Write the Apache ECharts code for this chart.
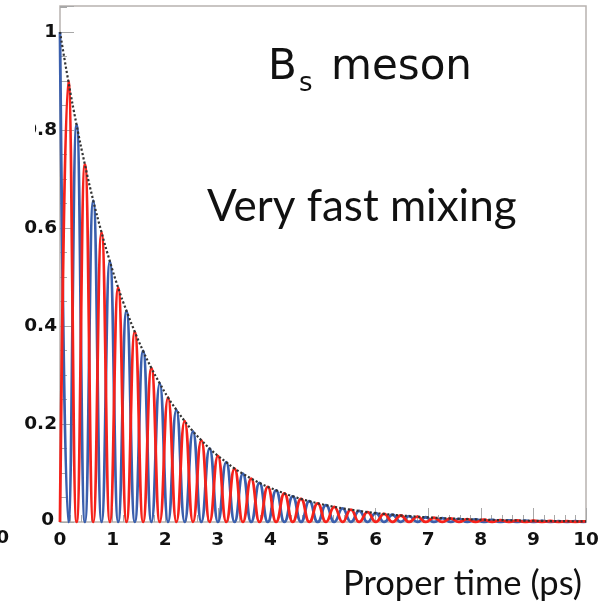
<!DOCTYPE html>
<html>
<head>
<meta charset="utf-8">
<script src="https://cdn.jsdelivr.net/npm/echarts@6/dist/echarts.min.js"></script>
<style>html,body{margin:0;padding:0;background:#fff;}#c{width:610px;height:605px;}</style>
</head>
<body>
<div id="c"></div>
<script>
// Proper time samples (ps): peaks/zeros of the oscillation
const times = [0,0.158,0.316,0.474,0.632,0.79,0.948,1.106,1.264,1.422,1.58,1.738,1.896,2.054,2.212,2.37,2.528,2.686,2.844,3.002,3.16,3.318,3.476,3.634,3.792,3.95,4.108,4.266,4.424,4.582,4.74,4.898,5.056,5.214,5.372,5.53,5.688,5.846,6.004,6.162,6.32,6.478,6.636,6.794,6.952,7.11,7.268,7.426,7.584,7.742,7.9,8.058,8.216,8.374,8.532,8.69,8.848,9.006,9.164,9.322,9.48,9.638,9.796,9.954,10];
// Exponential decay envelope (dotted black)
const envelope = [1,0.9,0.81,0.729,0.656,0.591,0.532,0.478,0.431,0.388,0.349,0.314,0.283,0.254,0.229,0.206,0.185,0.167,0.15,0.135,0.122,0.109,0.0985,0.0887,0.0798,0.0718,0.0647,0.0582,0.0524,0.0471,0.0424,0.0382,0.0344,0.0309,0.0278,0.0251,0.0226,0.0203,0.0183,0.0164,0.0148,0.0133,0.012,0.0108,0.0097,0.0087,0.0079,0.0071,0.0064,0.0057,0.0052,0.0046,0.0042,0.0038,0.0034,0.0031,0.0027,0.0025,0.0022,0.002,0.0018,0.0016,0.0015,0.0013,0.0013];
// Unmixed (blue) and mixed (red) probabilities
const blueValues = [1,0,0.81,0,0.656,0,0.532,0,0.431,0,0.349,0,0.283,0,0.229,0,0.185,0,0.15,0,0.122,0,0.0985,0,0.0798,0,0.0647,0,0.0524,0,0.0424,0,0.0344,0,0.0278,0,0.0226,0,0.0183,0,0.0148,0,0.012,0,0.0097,0,0.0079,0,0.0064,0,0.0052,0,0.0042,0,0.0034,0,0.0027,0,0.0022,0,0.0018,0,0.0015,0,0.0007];
const redValues = [0,0.9,0,0.729,0,0.591,0,0.478,0,0.388,0,0.314,0,0.254,0,0.206,0,0.167,0,0.135,0,0.109,0,0.0887,0,0.0718,0,0.0582,0,0.0471,0,0.0382,0,0.0309,0,0.0251,0,0.0203,0,0.0164,0,0.0133,0,0.0108,0,0.0087,0,0.0071,0,0.0057,0,0.0046,0,0.0038,0,0.0031,0,0.0025,0,0.002,0,0.0016,0,0.0013,0.0012];
const xTicks = [0,1,2,3,4,5,6,7,8,9,10];
const yTicks = [0,0.2,0.4,0.6,0.8,1];

const pairs = (ys) => times.map((t, i) => [t, ys[i]]);
const chart = echarts.init(document.getElementById('c'));
const labelFont = {fontFamily: 'DejaVu Sans', fontWeight: 'bold', fontSize: 18.5, color: '#111'};
chart.setOption({
  animation: false,
  grid: {left: 60, right: 24, top: 6, bottom: 83, show: true, borderColor: '#b8b3b0', borderWidth: 1.5, backgroundColor: 'transparent'},
  xAxis: {
    type: 'value', min: 0, max: 10, interval: 1,
    axisLine: {show: false},
    axisTick: {show: true, inside: true, length: 14, lineStyle: {color: '#a8a8a8', width: 1}},
    minorTick: {show: true, splitNumber: 5, length: 7, lineStyle: {color: '#a8a8a8', width: 1}},
    splitLine: {show: false},
    axisLabel: Object.assign({margin: 9, formatter: v => xTicks.includes(v) ? String(v) : ''}, labelFont)
  },
  yAxis: {
    type: 'value', min: 0, max: 1.053, interval: 0.2,
    axisLine: {show: false},
    axisTick: {show: true, inside: true, length: 14, lineStyle: {color: '#a8a8a8', width: 1}},
    minorTick: {show: true, splitNumber: 4, length: 7, lineStyle: {color: '#a8a8a8', width: 1}},
    splitLine: {show: false},
    axisLabel: Object.assign({
      margin: 3, showMaxLabel: false,
      formatter: v => {
        const r = Math.round(v * 10) / 10;
        if (!yTicks.some(t => Math.abs(t - v) < 1e-6)) return '';
        return r === 0 ? '{z|0}' : String(r);
      },
      rich: {z: {fontFamily: 'DejaVu Sans', fontWeight: 'bold', fontSize: 18.5, color: '#111', padding: [0, 3, 4, 0]}}
    }, labelFont)
  },
  series: [
    {type: 'line', data: pairs(blueValues), smooth: 0.5, smoothMonotone: 'x', showSymbol: false, lineStyle: {color: '#3a5fad', width: 2.8}, z: 2},
    {type: 'line', data: pairs(redValues), smooth: 0.5, smoothMonotone: 'x', showSymbol: false, lineStyle: {color: '#f5221b', width: 2.8}, z: 3},
    {type: 'line', data: pairs(envelope), smooth: true, showSymbol: false, lineStyle: {color: '#333', width: 2.2, type: 'dotted'}, z: 4}
  ],
  graphic: [
    {type: 'rect', shape: {x: 0, y: 116, width: 35, height: 28}, style: {fill: '#fff'}, z: 100},
    {type: 'text', x: 9, y: 538, style: {text: '10', font: 'bold 18.5px "DejaVu Sans"', fill: '#111', align: 'right', verticalAlign: 'middle'}, z: 100},
    {type: 'text', x: 268, y: 47, style: {text: 'B', font: '42px "DejaVu Sans"', fill: '#111', align: 'left', verticalAlign: 'top'}, z: 100},
    {type: 'text', x: 299, y: 71, style: {text: 's', font: '26px "DejaVu Sans"', fill: '#111', align: 'left', verticalAlign: 'top'}, z: 100},
    {type: 'text', x: 331, y: 47, style: {text: 'meson', font: '42px "DejaVu Sans"', fill: '#111', align: 'left', verticalAlign: 'top'}, z: 100},
    {type: 'text', x: 207, y: 185, style: {text: 'Very fast mixing', font: '44px Lato', fill: '#111', align: 'left', verticalAlign: 'top'}, z: 100},
    {type: 'text', x: 343, y: 566, style: {text: 'Proper time (ps)', font: '34.5px Lato', fill: '#111', align: 'left', verticalAlign: 'top'}, z: 100}
  ]
});
</script>
</body>
</html>
